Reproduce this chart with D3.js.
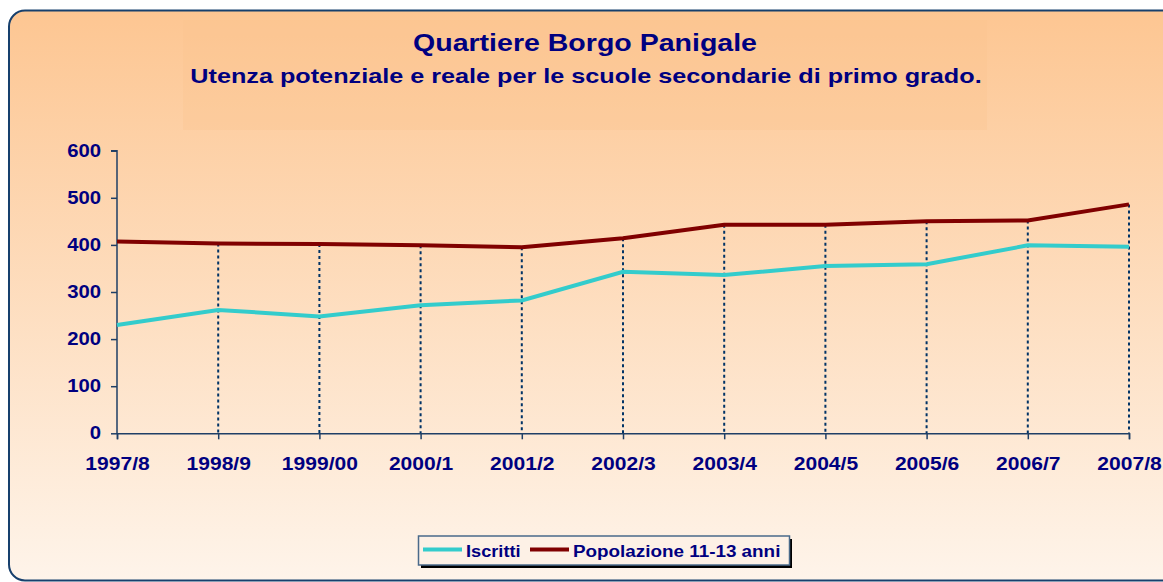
<!DOCTYPE html>
<html><head><meta charset="utf-8">
<script src="https://cdn.jsdelivr.net/npm/d3@7/dist/d3.min.js"></script>
<style>html,body{margin:0;padding:0;background:#fff;}svg{display:block;}</style>
</head><body>
<svg id="chart" width="1163" height="582"></svg>
<script>
const categories = ["1997/8","1998/9","1999/00","2000/1","2001/2","2002/3","2003/4","2004/5","2005/6","2006/7","2007/8"];
const iscritti = [230,262,248,272,282,343,336,355,359,399,396];
const popolazione = [407,403,402,399,395,414,443,443,450,452,486];
const yTicks = [0,100,200,300,400,500,600];
const seriesNames = ["Iscritti","Popolazione 11-13 anni"];
const title = "Quartiere Borgo Panigale";
const subtitle = "Utenza potenziale e reale per le scuole secondarie di primo grado.";

const svg = d3.select("#chart");
const navy = "#000080";
const font = "'Liberation Sans', Arial, sans-serif";

// horizontal stretch of a text element around its anchor point
function stretch(sel, sx){
  sel.each(function(){
    const t = d3.select(this);
    const ax = +(t.attr("x")||0);
    t.attr("transform", `translate(${ax},0) scale(${sx},1) translate(${-ax},0)`);
  });
}

const defs = svg.append("defs");
const grad = defs.append("linearGradient").attr("id","bg").attr("x1",0).attr("y1",0).attr("x2",0).attr("y2",1);
grad.append("stop").attr("offset","0%").attr("stop-color","#fdc692");
grad.append("stop").attr("offset","100%").attr("stop-color","#fef4ea");

svg.append("rect").attr("x",9).attr("y",10.5).attr("width",1175).attr("height",570).attr("rx",16)
  .attr("fill","url(#bg)").attr("stroke","#17406d").attr("stroke-width",2);

// title band
svg.append("rect").attr("x",183).attr("y",20).attr("width",804).attr("height",110)
  .attr("fill","#fcc38f").attr("opacity",0.3);

const tt = svg.append("text").attr("x",585).attr("y",51).attr("text-anchor","middle")
  .attr("font-family",font).attr("font-weight","bold").attr("font-size",24.5).attr("fill",navy).text(title);
stretch(tt, 1.165);
const st = svg.append("text").attr("x",586).attr("y",83).attr("text-anchor","middle")
  .attr("font-family",font).attr("font-weight","bold").attr("font-size",20.5).attr("fill",navy).text(subtitle);
stretch(st, 1.23);

const x = d3.scalePoint().domain(categories).range([117,1129]);
const y = d3.scaleLinear().domain([0,600]).range([433.3,150.7]);

// drop lines
svg.append("g").selectAll("line").data(categories.slice(1)).join("line")
  .attr("x1",d=>x(d)).attr("x2",d=>x(d))
  .attr("y1",d=>y(popolazione[categories.indexOf(d)]))
  .attr("y2",y(0))
  .attr("stroke","#003366").attr("stroke-width",2).attr("stroke-dasharray","3,3");

const axisColor = "#1f3f66";
const yAxis = svg.append("g").attr("transform","translate(117,0)")
  .call(d3.axisLeft(y).tickValues(yTicks).tickSize(6).tickPadding(10).tickFormat(d3.format("d")));
const xAxis = svg.append("g").attr("transform",`translate(0,${y(0)})`)
  .call(d3.axisBottom(x).tickSize(6).tickPadding(17.5));
[yAxis,xAxis].forEach(a=>{
  a.select(".domain").attr("stroke",axisColor).attr("stroke-width",1.5);
  a.selectAll(".tick line").attr("stroke",axisColor).attr("stroke-width",1.5);
  a.selectAll("text").attr("font-family",font).attr("font-weight","bold").attr("fill",navy);
});
yAxis.selectAll("text").attr("font-size",17.5);
xAxis.selectAll("text").attr("font-size",18).attr("dy","0.71em");
yAxis.select(".domain").attr("d","M-6,150.7H0V433.3");
stretch(yAxis.selectAll("text"), 1.16);
stretch(xAxis.selectAll("text"), 1.17);

const line = d3.line().x((d,i)=>x(categories[i])).y(d=>y(d));
svg.append("path").datum(popolazione).attr("d",line).attr("fill","none").attr("stroke","#800000").attr("stroke-width",4);
svg.append("path").datum(iscritti).attr("d",line).attr("fill","none").attr("stroke","#33cccc").attr("stroke-width",4);

// legend
const lg = svg.append("g");
lg.append("rect").attr("x",421).attr("y",539).attr("width",371).attr("height",29).attr("fill","#000");
lg.append("rect").attr("x",418.5).attr("y",536).attr("width",371).attr("height",29).attr("fill","#fdf1e6").attr("stroke","#4a6a8a").attr("stroke-width",1.5);
const colors = ["#33cccc","#800000"];
const lx = [423,530];
const lstretch = [1.07,1.11];
seriesNames.forEach((n,i)=>{
  lg.append("line").attr("x1",lx[i]).attr("x2",lx[i]+39).attr("y1",549.5).attr("y2",549.5).attr("stroke",colors[i]).attr("stroke-width",4);
  const t = lg.append("text").attr("x",lx[i]+43).attr("y",557).attr("font-family",font).attr("font-weight","bold")
    .attr("font-size",17).attr("fill",navy).text(n);
  stretch(t, lstretch[i]);
});
</script>
</body></html>
